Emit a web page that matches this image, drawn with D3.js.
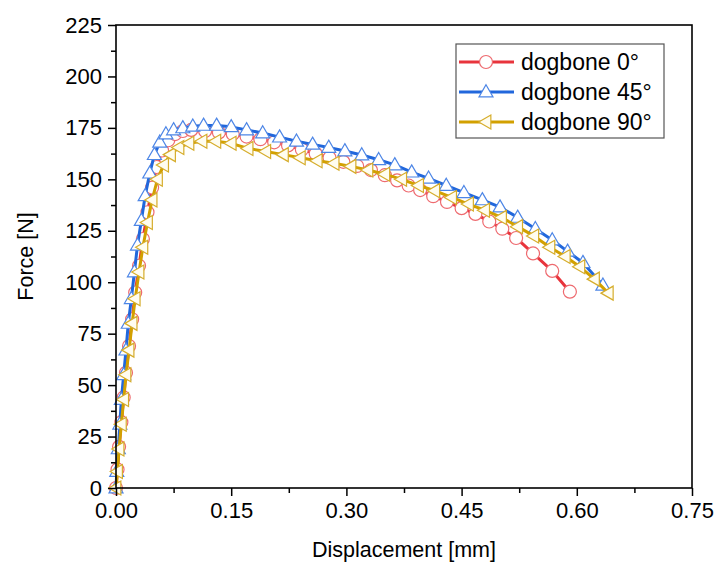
<!DOCTYPE html>
<html>
<head>
<meta charset="utf-8">
<script src="https://cdn.jsdelivr.net/npm/d3@7"></script>
<style>
  html, body { margin: 0; padding: 0; background: #fff; }
  svg { display: block; font-family: "Liberation Sans", Arial, sans-serif; }
</style>
</head>
<body>
<svg id="chart" width="715" height="567"></svg>
<script>
// Tensile test curves: force vs. displacement for three print orientations
const seriesNames = ["dogbone 0°", "dogbone 45°", "dogbone 90°"];

const disp0 = [0, 0.002, 0.004, 0.007, 0.010, 0.013, 0.017, 0.021, 0.025, 0.030, 0.035, 0.041, 0.047, 0.053, 0.060, 0.068, 0.077, 0.087, 0.098,
  0.116, 0.134, 0.152, 0.170, 0.188, 0.206, 0.224, 0.242, 0.260, 0.278, 0.296, 0.314, 0.332, 0.350, 0.366, 0.381, 0.396, 0.413, 0.431,
  0.450, 0.468, 0.486, 0.503, 0.521, 0.543, 0.568, 0.591];
const force0 = [0, 9, 20, 32, 44, 56, 69, 82, 95, 108, 121, 134, 146, 156, 164, 169, 172, 173.5, 174,
  173.5, 172.8, 172, 170.8, 169.5, 168, 166.5, 164.5, 162.5, 160.5, 158.5, 156.5, 154.5, 152, 149.5, 147, 144.8, 141.8, 139,
  136, 133.2, 129.5, 126, 121.5, 114, 105.5, 95.4];

const disp45 = [0, 0.001, 0.003, 0.005, 0.007, 0.010, 0.013, 0.016, 0.020, 0.024, 0.028, 0.033, 0.038, 0.044, 0.050, 0.057, 0.065, 0.075,
  0.087, 0.100, 0.114, 0.131, 0.150, 0.170, 0.191, 0.213, 0.235, 0.256, 0.277, 0.298, 0.320, 0.342, 0.363, 0.385, 0.407, 0.430,
  0.453, 0.477, 0.500, 0.523, 0.546, 0.568, 0.588, 0.608, 0.634];
const force45 = [0, 8, 19, 31, 43, 55, 67, 80, 92, 105, 118, 130, 142, 153, 162, 168, 172, 174,
  175, 175.8, 176.2, 176.2, 175.5, 174, 172.5, 170.5, 168.5, 167, 165.5, 163.8, 161.8, 159.5, 157, 153.5, 150.5, 147,
  143.5, 140, 136.5, 131.5, 126, 120.5, 115, 109.5, 98.5];

const disp90 = [0, 0.002, 0.004, 0.007, 0.010, 0.013, 0.017, 0.021, 0.025, 0.030, 0.035, 0.041, 0.047, 0.054, 0.062, 0.071, 0.082,
  0.095, 0.112, 0.130, 0.150, 0.172, 0.195, 0.218, 0.240, 0.262, 0.284, 0.306, 0.328, 0.350, 0.372, 0.394, 0.415, 0.437,
  0.459, 0.480, 0.502, 0.523, 0.544, 0.565, 0.585, 0.604, 0.623, 0.641];
const force90 = [0, 8, 19, 31, 43, 55, 67, 80, 92, 105, 117, 129, 140, 150, 157, 162, 165.5,
  167.5, 168.5, 168.5, 167.5, 165, 163.5, 162, 160.5, 159, 157.8, 156.3, 154.5, 152.5, 150, 147, 144.5, 141.2,
  138, 135, 131.5, 127, 122.5, 117, 112.5, 107.5, 101.5, 94.7];

const xTicks = [0, 0.15, 0.30, 0.45, 0.60, 0.75];
const yTicks = [0, 25, 50, 75, 100, 125, 150, 175, 200, 225];

const styles = [
  { line: "#e8343c", stroke: "#ee6a6f", fill: "#ffffff", marker: "circle" },
  { line: "#2167dc", stroke: "#4d86e6", fill: "#ffffff", marker: "up" },
  { line: "#d2a000", stroke: "#d6ad2c", fill: "#fffdf0", marker: "left" }
];

const series = [
  { name: seriesNames[0], x: disp0, y: force0 },
  { name: seriesNames[1], x: disp45, y: force45 },
  { name: seriesNames[2], x: disp90, y: force90 }
].map((s, i) => ({ ...s, style: styles[i], pts: s.x.map((v, j) => [v, s.y[j]]) }));

const svg = d3.select("#chart");
const m = { left: 116, right: 692, top: 25, bottom: 488 };

const x = d3.scaleLinear().domain([0, 0.75]).range([m.left, m.right]);
const y = d3.scaleLinear().domain([0, 225]).range([m.bottom, m.top]);

// Marker shapes: open circle, up triangle, left-pointing triangle
function markerPath(kind) {
  const s = 14, h = s * Math.sqrt(3) / 2;
  if (kind === "up") return `M0,${-h * 0.6}L${s / 2},${h * 0.4}L${-s / 2},${h * 0.4}Z`;
  return `M${-h * 0.6},0L${h * 0.4},${-s / 2}L${h * 0.4},${s / 2}Z`;
}
function drawMarker(g, kind, st) {
  if (kind === "circle") {
    g.append("circle").attr("r", 6.5).attr("fill", st.fill).attr("stroke", st.stroke).attr("stroke-width", 1.2);
  } else {
    g.append("path").attr("d", markerPath(kind)).attr("fill", st.fill).attr("stroke", st.stroke).attr("stroke-width", 1.2);
  }
}

// Curves with markers
const line = d3.line().x(d => x(d[0])).y(d => y(d[1]));
const plot = svg.append("g");
series.forEach(s => {
  const g = plot.append("g");
  g.append("path").datum(s.pts).attr("d", line)
    .attr("fill", "none").attr("stroke", s.style.line).attr("stroke-width", 3).attr("stroke-linejoin", "round");
  s.pts.forEach(p => {
    const mg = g.append("g").attr("transform", `translate(${x(p[0])},${y(p[1])})`);
    drawMarker(mg, s.style.marker, s.style);
  });
});

// Axes
const fontSize = 22;
const xAxis = d3.axisBottom(x).tickValues(xTicks).tickFormat(d3.format(".2f")).tickSize(8).tickPadding(6);
const xMinor = d3.axisBottom(x).tickValues(d3.range(0.075, 0.75, 0.15)).tickFormat("").tickSize(5);
const yAxis = d3.axisLeft(y).tickValues(yTicks).tickFormat(d3.format("d")).tickSize(8).tickPadding(6);
const yMinor = d3.axisLeft(y).tickValues(d3.range(12.5, 225, 25)).tickFormat("").tickSize(5);

function styleAxis(g) {
  g.selectAll(".domain").remove();
  g.selectAll("line").attr("stroke", "#000").attr("stroke-width", 1.5);
  g.selectAll("text").attr("fill", "#000").style("font-size", fontSize + "px");
}
svg.append("g").attr("transform", `translate(0,${m.bottom})`).call(xAxis).call(styleAxis);
svg.append("g").attr("transform", `translate(0,${m.bottom})`).call(xMinor).call(styleAxis);
svg.append("g").attr("transform", `translate(${m.left},0)`).call(yAxis).call(styleAxis);
svg.append("g").attr("transform", `translate(${m.left},0)`).call(yMinor).call(styleAxis);

// Frame
svg.append("rect").attr("x", m.left).attr("y", m.top)
  .attr("width", m.right - m.left).attr("height", m.bottom - m.top)
  .attr("fill", "none").attr("stroke", "#000").attr("stroke-width", 1.6);

// Axis titles
svg.append("text").attr("x", (m.left + m.right) / 2).attr("y", 557)
  .attr("text-anchor", "middle").style("font-size", "21.5px").text("Displacement [mm]");
svg.append("text").attr("transform", `translate(33,${(m.top + m.bottom) / 2}) rotate(-90)`)
  .attr("text-anchor", "middle").style("font-size", "21.5px").text("Force [N]");

// Legend
const leg = svg.append("g");
leg.append("rect").attr("x", 456).attr("y", 44).attr("width", 208).attr("height", 94)
  .attr("fill", "#fff").attr("stroke", "#555").attr("stroke-width", 1.2);
series.forEach((s, i) => {
  const cy = 62 + i * 30;
  leg.append("line").attr("x1", 459).attr("x2", 514).attr("y1", cy).attr("y2", cy)
    .attr("stroke", s.style.line).attr("stroke-width", 3);
  const mg = leg.append("g").attr("transform", `translate(486,${cy})`);
  drawMarker(mg, s.style.marker, s.style);
  leg.append("text").attr("x", 521).attr("y", cy).attr("dy", "0.35em")
    .style("font-size", "23px").text(s.name);
});
</script>
</body>
</html>
